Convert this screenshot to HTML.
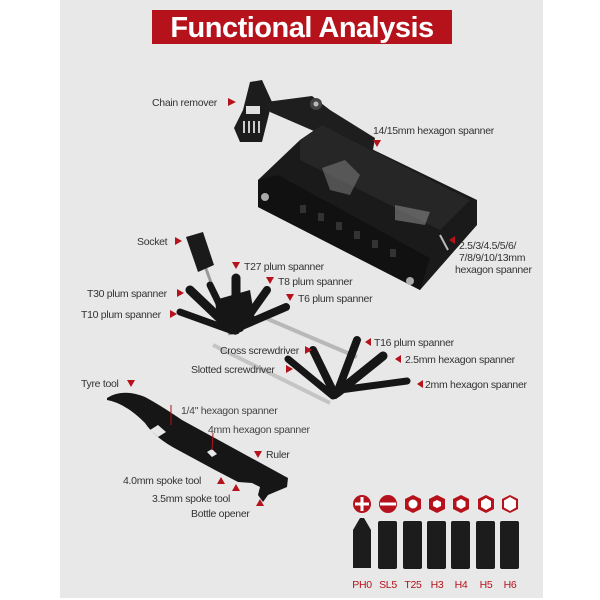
<!DOCTYPE html>
<html><head><meta charset="utf-8"><style>
html,body{margin:0;padding:0;background:#fff;width:600px;height:600px;overflow:hidden}
svg{display:block}
text{font-family:"Liberation Sans",sans-serif;font-size:10.5px;fill:#333;letter-spacing:-0.3px}
.r{fill:#b5121b}
</style></head><body>
<svg width="600" height="600" viewBox="0 0 600 600">
<rect x="60" y="0" width="483" height="598" fill="#e8e8e8"/>
<rect x="152" y="10" width="300" height="34" fill="#b5121b"/>
<text x="302" y="37" text-anchor="middle" style="font-size:29px;font-weight:bold;fill:#fff;letter-spacing:-0.5px">Functional Analysis</text>

<!-- chain remover head -->
<polygon points="250,82 262,80 272,102 268,118 262,142 240,142 234,128 243,110" fill="#1c1c1c"/>
<g fill="#ccc"><rect x="243" y="121" width="2" height="12"/><rect x="248" y="121" width="2" height="12"/><rect x="253" y="121" width="2" height="12"/><rect x="258" y="121" width="2" height="12"/></g>
<rect x="246" y="106" width="14" height="8" fill="#e0e0e0"/>
<!-- arm -->
<polygon points="266,102 312,96 330,110 375,138 373,150 330,138 300,125 270,112" fill="#1e1e1e"/>
<circle cx="316" cy="104" r="6" fill="#444"/><circle cx="316" cy="104" r="2.5" fill="#bbb"/>
<!-- main body -->
<polygon points="258,180 300,140 322,125 477,200 477,225 420,290 258,207" fill="#1a1a1a"/>
<polygon points="300,140 322,125 470,200 440,230 300,160" fill="#262626"/>
<polygon points="322,168 345,160 360,175 350,195 330,190" fill="#888" opacity="0.5"/>
<polygon points="395,205 430,212 425,225 395,220" fill="#999" opacity="0.5"/>
<polygon points="258,180 278,175 430,258 420,290 258,207" fill="#111"/>
<g fill="#333"><rect x="300" y="205" width="6" height="8"/><rect x="318" y="213" width="6" height="8"/><rect x="336" y="222" width="6" height="8"/><rect x="354" y="231" width="6" height="8"/><rect x="372" y="240" width="6" height="8"/><rect x="390" y="249" width="6" height="8"/></g>
<circle cx="265" cy="197" r="4" fill="#aaa"/>
<circle cx="410" cy="281" r="4" fill="#aaa"/>
<line x1="440" y1="235" x2="448" y2="250" stroke="#bbb" stroke-width="2"/>

<!-- folding tool -->
<line x1="263" y1="317" x2="357" y2="357" stroke="#b8b8b8" stroke-width="4"/>
<line x1="213" y1="345" x2="330" y2="403" stroke="#c4c4c4" stroke-width="4"/>
<line x1="201" y1="255" x2="230" y2="335" stroke="#999" stroke-width="3"/>
<polygon points="186,237 203,232 214,265 198,272" fill="#1a1a1a"/>
<g stroke="#161616" stroke-linecap="round" fill="none">
<line x1="180" y1="312" x2="230" y2="330" stroke-width="7"/>
<line x1="190" y1="290" x2="232" y2="330" stroke-width="9"/>
<line x1="210" y1="285" x2="232" y2="330" stroke-width="7"/>
<line x1="236" y1="278" x2="236" y2="330" stroke-width="9"/>
<line x1="267" y1="290" x2="240" y2="328" stroke-width="8"/>
<line x1="286" y1="307" x2="242" y2="326" stroke-width="8"/>
<line x1="357" y1="340" x2="337" y2="393" stroke-width="8"/>
<line x1="383" y1="356" x2="337" y2="393" stroke-width="9"/>
<line x1="407" y1="381" x2="340" y2="390" stroke-width="7"/>
<line x1="313" y1="350" x2="335" y2="395" stroke-width="8"/>
<line x1="288" y1="359" x2="333" y2="396" stroke-width="7"/>
</g>
<polygon points="215,300 250,290 255,320 235,335 218,325" fill="#161616"/>

<!-- tyre tool -->
<path d="M107,398 Q122,388 145,397 Q160,405 182,420 L288,478 L287,487 L268,495 L263,502 L258,495 L260,487 L252,483 L238,482 L215,470 L178,450 Q155,438 145,423 Q125,403 107,400 Z" fill="#161616"/>
<polygon points="150,430 158,425 166,432 158,437" fill="#e8e8e8"/>
<polygon points="207,452 212,449 217,454 212,457" fill="#e8e8e8"/>
<line x1="171" y1="405" x2="171" y2="425" stroke="#b5121b" stroke-width="1"/>
<line x1="213" y1="433" x2="212" y2="450" stroke="#b5121b" stroke-width="1"/>

<!-- labels -->
<text x="152" y="106">Chain remover</text><polygon class="r" points="228,98 236,102 228,106"/>
<text x="373" y="134">14/15mm hexagon spanner</text><polygon class="r" points="373,140 381,140 377,147"/>
<text x="459" y="249">2.5/3/4.5/5/6/</text>
<text x="459" y="261">7/8/9/10/13mm</text>
<text x="455" y="273">hexagon spanner</text><polygon class="r" points="455,236 449,240 455,244"/>
<text x="137" y="245">Socket</text><polygon class="r" points="175,237 182,241 175,245"/>
<text x="244" y="270">T27 plum spanner</text><polygon class="r" points="232,262 240,262 236,269"/>
<text x="278" y="285">T8 plum spanner</text><polygon class="r" points="266,277 274,277 270,284"/>
<text x="298" y="302">T6 plum spanner</text><polygon class="r" points="286,294 294,294 290,301"/>
<text x="87" y="297">T30 plum spanner</text><polygon class="r" points="177,289 184,293 177,297"/>
<text x="81" y="318">T10 plum spanner</text><polygon class="r" points="170,310 177,314 170,318"/>
<text x="374" y="346">T16 plum spanner</text><polygon class="r" points="371,338 365,342 371,346"/>
<text x="220" y="354">Cross screwdriver</text><polygon class="r" points="305,346 312,350 305,354"/>
<text x="405" y="363">2.5mm hexagon spanner</text><polygon class="r" points="401,355 395,359 401,363"/>
<text x="191" y="373">Slotted screwdriver</text><polygon class="r" points="286,365 293,369 286,373"/>
<text x="425" y="388">2mm hexagon spanner</text><polygon class="r" points="423,380 417,384 423,388"/>
<text x="81" y="387">Tyre tool</text><polygon class="r" points="127,380 135,380 131,387"/>
<text x="181" y="414" style="fill:#444">1/4" hexagon spanner</text>
<text x="208" y="433" style="fill:#444">4mm hexagon spanner</text>
<text x="266" y="458">Ruler</text><polygon class="r" points="254,451 262,451 258,458"/>
<text x="123" y="484">4.0mm spoke tool</text><polygon class="r" points="217,484 225,484 221,477"/>
<text x="152" y="502">3.5mm spoke tool</text><polygon class="r" points="232,491 240,491 236,484"/>
<text x="191" y="517">Bottle opener</text><polygon class="r" points="256,506 264,506 260,499"/>

<!-- bits -->
<g>
<circle cx="362" cy="504" r="9" fill="#b5121b"/><rect x="360.5" y="497" width="3" height="14" fill="#fff"/><rect x="355" y="502.5" width="14" height="3" fill="#fff"/>
<circle cx="388" cy="504" r="9" fill="#b5121b"/><rect x="380" y="502.5" width="16" height="3" fill="#fff"/>
<polygon points="413,495 421,499 421,509 413,513 405,509 405,499" fill="#b5121b"/><circle cx="413" cy="504" r="4.5" fill="#fff"/>
<polygon points="437,495 445,499 445,509 437,513 429,509 429,499" fill="#b5121b"/><polygon points="437,500 441,502 441,506 437,508 433,506 433,502" fill="#fff"/>
<polygon points="461,495 469,499 469,509 461,513 453,509 453,499" fill="#b5121b"/><polygon points="461,499 465.5,501.5 465.5,506.5 461,509 456.5,506.5 456.5,501.5" fill="#fff"/>
<polygon points="486,495 494,499 494,509 486,513 478,509 478,499" fill="#b5121b"/><polygon points="486,498 491,501 491,507 486,510 481,507 481,501" fill="#fff"/>
<polygon points="510,495 518,499 518,509 510,513 502,509 502,499" fill="#b5121b"/><polygon points="510,497 516,500.5 516,507.5 510,511 504,507.5 504,500.5" fill="#fff"/>
</g>
<g fill="#1c1c1c">
<path d="M353,530 L360,518 L364,518 L371,530 L371,568 L353,568Z"/>
<rect x="378" y="521" width="19" height="48" rx="2"/>
<rect x="403" y="521" width="19" height="48" rx="2"/>
<rect x="427" y="521" width="19" height="48" rx="2"/>
<rect x="451" y="521" width="19" height="48" rx="2"/>
<rect x="476" y="521" width="19" height="48" rx="2"/>
<rect x="500" y="521" width="19" height="48" rx="2"/>
</g>
<g style="font-size:10.5px" text-anchor="middle">
<text x="362" y="588" class="r">PH0</text>
<text x="388" y="588" class="r">SL5</text>
<text x="413" y="588" class="r">T25</text>
<text x="437" y="588" class="r">H3</text>
<text x="461" y="588" class="r">H4</text>
<text x="486" y="588" class="r">H5</text>
<text x="510" y="588" class="r">H6</text>
</g>
</svg>
</body></html>
